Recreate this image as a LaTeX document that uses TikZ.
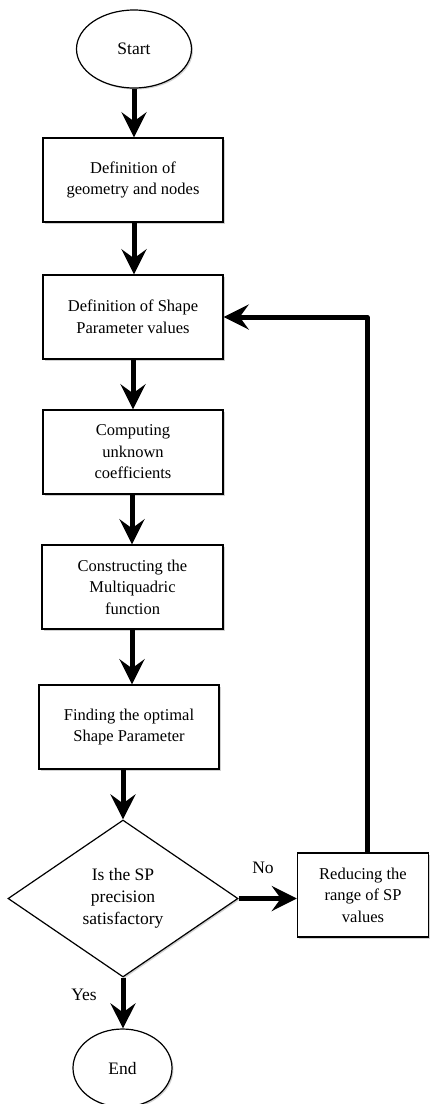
\documentclass[tikz,border=0pt]{standalone}
\usepackage{fontspec}
\setmainfont{Liberation Serif}
\usetikzlibrary{arrows.meta,shapes.geometric,shadows}
\begin{document}
\begin{tikzpicture}[x=1pt,y=-1pt,
  shd/.style={drop shadow={shadow xshift=1.5pt,shadow yshift=-1.5pt,fill=black,opacity=0.18}},
  procbox/.style={rectangle,draw,line width=1.4pt,fill=white,shd,minimum height=84pt,inner sep=0pt,align=center,font=\fontsize{16.5}{21.5}\selectfont},
  term/.style={ellipse,draw,line width=1.2pt,fill=white,shd,inner sep=0pt,font=\fontsize{17.5}{22}\selectfont},
  decis/.style={diamond,draw,line width=1.2pt,fill=white,shd,inner sep=0pt,shape aspect=1.46,align=center,font=\fontsize{17.5}{22}\selectfont},
  flow/.style={line width=5pt,line join=round,-{Stealth[length=25pt,width=25pt,inset=9pt]}},
  lbl/.style={font=\fontsize{17.5}{22}\selectfont,inner sep=0pt}
]
\useasboundingbox (0,0) rectangle (430,1104);

\node[term,minimum width=115pt,minimum height=78pt] (start) at (134,49) {Start};
\node[procbox,minimum width=180pt] (b1) at (133,180) {Definition of\\geometry and nodes};
\node[procbox,minimum width=180pt] (b2) at (133,317) {Definition of Shape\\Parameter values};
\node[procbox,minimum width=180pt] (b3) at (133,452) {Computing\\unknown\\coefficients};
\node[procbox,minimum width=181pt] (b4) at (132.5,587) {Constructing the\\Multiquadric\\function};
\node[procbox,minimum width=180pt] (b5) at (129,727) {Finding the optimal\\Shape Parameter};
\node[decis,minimum width=230pt,minimum height=157pt] (dec) at (123,898.5) {Is the SP\\precision\\satisfactory};
\node[procbox,minimum width=131pt] (red) at (363,895) {Reducing the\\range of SP\\values};
\node[term,minimum width=99pt,minimum height=78pt] (end) at (122.5,1068) {End};

\coordinate (loop) at (367,317);

\node[lbl] (no) at (263,868) {No};
\node[lbl] (yes) at (84,995) {Yes};

\draw[flow] (start.south) -- (start.south |- b1.north);
\draw[flow] (b1.south -| start.south) -- (start.south |- b2.north);
\draw[flow] (b2.south) -- (b2.south |- b3.north);
\draw[flow] (b3.south -| 132,0) -- (132,0 |- b4.north);
\draw[flow] (b4.south -| 132,0) -- (132,0 |- b5.north);
\draw[flow] (dec.north |- b5.south) -- (dec.north);
\draw[flow] (dec.east) -- (dec.east -| red.west);
\draw[flow] (dec.south) -- (dec.south |- end.north);
\draw[flow] (red.north -| loop) -- (loop) -- (loop -| b2.east);
\end{tikzpicture}
\end{document}
